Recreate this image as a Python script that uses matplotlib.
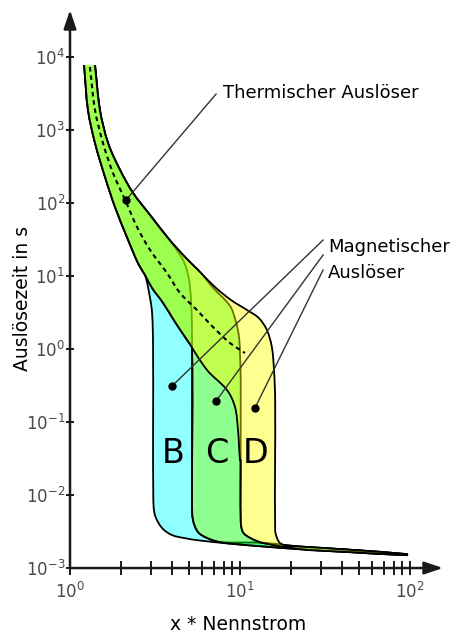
import matplotlib
matplotlib.use('Agg')
import matplotlib.pyplot as plt
from matplotlib.path import Path
from matplotlib.patches import PathPatch
from matplotlib.ticker import FixedLocator, NullLocator, NullFormatter, FuncFormatter
import numpy as np

# x = multiple of rated current (Nennstrom), t = trip time in s

# thermal release, lower limit (common left border of B, C and D)
lower_x = [1.21, 1.276, 1.403, 1.607, 1.84, 2.165, 2.512, 2.762]
lower_t = [7760, 1880, 664, 227, 88, 34, 15, 10.3]
# lower limit going on for C and D
lower_cd_x = [3.04, 3.53, 4.15, 4.88, 6.40, 8.39, 9.35, 9.73, 10.0]
lower_cd_t = [6.85, 4.27, 2.34, 1.33, 0.515, 0.274, 0.160, 0.0776, 0.0301]

# thermal release, upper limit (outer right border)
upper_x = [1.403, 1.50, 1.674, 1.97, 2.35, 2.955, 3.77, 4.75, 5.82, 7.13,
           8.85, 11.0, 12.9, 14.4, 15.4, 15.85, 16.1]
upper_t = [7760, 1880, 664, 283, 137, 68.6, 33.2, 18.2, 11.35, 7.06,
           4.69, 3.42, 2.66, 1.82, 1.06, 0.515, 0.20]

# mean thermal curve (dashed)
mean_x = [1.31, 1.403, 1.563, 1.79, 2.11, 2.48, 2.96, 3.72, 4.44, 5.58, 6.94, 8.73, 10.7]
mean_t = [7290, 1880, 664, 258, 110, 46.9, 22.7, 11.0, 5.85, 3.42, 2.0, 1.21, 0.88]

# instantaneous tail at the bottom
inst_lo_x = [4.75, 5.82, 8.73, 13.1, 22.5, 44.4, 96]
inst_lo_t = [0.00256, 0.00238, 0.00216, 0.00199, 0.00181, 0.00165, 0.00150]
inst_hi_x = [7.63, 13.7, 18.9, 22.5, 44.4, 96]
inst_hi_t = [0.00240, 0.00222, 0.00205, 0.00197, 0.00178, 0.00155]

# B: 3 ... 5 In
b_left_x = lower_x + [2.95, 3.04, 3.08, 3.09, 3.16, 3.48, 3.98]
b_left_t = lower_t + [5.15, 3.11, 1.06, 0.0094, 0.00532, 0.00353, 0.00283]
b_right_x = upper_x[:7] + [4.2, 4.69, 5.01, 5.15, 5.22, 5.22, 5.29, 5.66, 6.40, 7.63]
b_right_t = upper_t[:7] + [23.5, 15.5, 9.0, 4.69, 1.82, 0.0078, 0.00455, 0.00311, 0.00258, 0.00227]

# C: 5 ... 10 In
c_left_x = lower_x + lower_cd_x[:4] + [5.22, 5.22, 5.29, 5.66, 6.40, 7.63]
c_left_t = lower_t + lower_cd_t[:4] + [1.05, 0.0078, 0.00455, 0.00311, 0.00258, 0.00226]
c_right_x = upper_x[:9] + [6.94, 8.73, 9.47, 9.87, 10.0, 10.1, 10.1, 10.4, 11.5, 13.7]
c_right_t = upper_t[:9] + [6.9, 3.9, 2.34, 1.46, 0.83, 0.376, 0.00455, 0.00311, 0.00258, 0.0022]

# D: 10 ... 16 In
d_left_x = lower_x + lower_cd_x + [10.1, 10.1, 10.4, 11.5, 13.7]
d_left_t = lower_t + lower_cd_t + [0.0301, 0.00455, 0.00311, 0.00258, 0.0022]
d_right_x = upper_x + [16.1, 16.5, 17.2, 18.9]
d_right_t = upper_t + [0.00332, 0.00258, 0.0022, 0.0020]

letters = ['B', 'C', 'D']
letter_x = [4.04, 7.33, 12.4]
letter_t = 0.0274

therm_dot = (2.135, 110)
therm_end = (7.23, 3110)
therm_text = (7.94, 2742)

mag_dot_x = [3.98, 7.23, 12.25]
mag_dot_t = [0.311, 0.194, 0.156]
mag_end_x = 30.8
mag_end_t = [31.1, 19.4, 12.1]
mag_text = (32.9, 9.4)

# pixels per decade, only used to make the bezier handles look even on screen
SX, SY = 170.0, 73.0


def outline(lx, lt, rx, rt):
    lo = [(x, t) for x, t in zip(inst_lo_x, inst_lo_t) if x > lx[-1]]
    hi = [(x, t) for x, t in zip(inst_hi_x, inst_hi_t) if x > rx[-1]]
    xs = lx + [p[0] for p in lo] + [p[0] for p in hi[::-1]] + rx[::-1]
    ts = lt + [p[1] for p in lo] + [p[1] for p in hi[::-1]] + rt[::-1]
    return xs, ts


def smooth_path(xs, ts, close=False):
    # bezier path through the points (chordal catmull-rom handles)
    p = np.column_stack([np.log10(xs) * SX, np.log10(ts) * SY])
    n = len(p)
    d = np.maximum(np.hypot(*np.diff(p, axis=0).T), 1e-9)
    m = np.zeros_like(p)
    for i in range(n):
        a = p[max(i - 1, 0)]
        b = p[min(i + 1, n - 1)]
        da = d[i - 1] if i > 0 else 0
        db = d[i] if i < n - 1 else 0
        m[i] = (b - a) / max(da + db, 1e-9)
    verts = [p[0]]
    codes = [Path.MOVETO]
    for i in range(n - 1):
        verts += [p[i] + m[i] * d[i] / 3, p[i + 1] - m[i + 1] * d[i] / 3, p[i + 1]]
        codes += [Path.CURVE4] * 3
    if close:
        verts.append(p[0])
        codes.append(Path.LINETO)
    v = np.array(verts)
    v = np.column_stack([10 ** (v[:, 0] / SX), 10 ** (v[:, 1] / SY)])
    return Path(v, codes)


fig = plt.figure(figsize=(4.57, 6.33), dpi=100)
ax = fig.add_axes([0, 0, 1, 1])
ax.set_xscale('log')
ax.set_yscale('log')
ax.set_xlim(10 ** -0.4118, 10 ** 2.2765)
ax.set_ylim(10 ** -3.890, 10 ** 4.781)
ax.patch.set_alpha(0)

for s in ['top', 'right', 'left', 'bottom']:
    ax.spines[s].set_visible(False)
ax.spines['left'].set_position(('data', 1))
ax.spines['bottom'].set_position(('data', 1e-3))

regions = [(b_left_x, b_left_t, b_right_x, b_right_t, '#00ffff'),
           (c_left_x, c_left_t, c_right_x, c_right_t, '#00ff00'),
           (d_left_x, d_left_t, d_right_x, d_right_t, '#ffff00')]
for i, (lx, lt, rx, rt, col) in enumerate(regions):
    xs, ts = outline(lx, lt, rx, rt)
    ax.add_patch(PathPatch(smooth_path(xs, ts, close=True), facecolor=col, alpha=0.44,
                           lw=0, zorder=1 + i))
    ax.add_patch(PathPatch(smooth_path(xs, ts), fill=False, edgecolor='black', lw=1.3,
                           joinstyle='round', zorder=1.5 + i))

ax.add_patch(PathPatch(smooth_path(mean_x, mean_t), fill=False, edgecolor='black', lw=1.5,
                       linestyle=(0, (2.2, 1.8)), zorder=5))

for l, x in zip(letters, letter_x):
    ax.text(x, letter_t, l, fontsize=24, ha='center', va='baseline', zorder=6)

# annotations
ax.plot([therm_dot[0], therm_end[0]], [therm_dot[1], therm_end[1]], color='#333333', lw=1.0, zorder=6)
ax.plot(*therm_dot, 'o', color='black', ms=5, zorder=7)
ax.text(therm_text[0], therm_text[1], 'Thermischer Auslöser', fontsize=13, va='baseline', zorder=7)

for x, t, te in zip(mag_dot_x, mag_dot_t, mag_end_t):
    ax.plot([x, mag_end_x], [t, te], color='#333333', lw=1.0, zorder=6)
    ax.plot(x, t, 'o', color='black', ms=5, zorder=7)
ax.text(mag_text[0], mag_text[1], 'Magnetischer\nAuslöser', fontsize=13, va='baseline',
        linespacing=1.55, zorder=7)

# axes with arrows
arrow = dict(arrowstyle='-|>,head_length=0.8,head_width=0.27', mutation_scale=14,
             lw=1.8, color='#1a1a1a', shrinkA=0, shrinkB=0)
ax.annotate('', xy=(1, 10 ** 4.644), xytext=(1, 1e-3), arrowprops=arrow, zorder=8)
ax.annotate('', xy=(10 ** 2.194, 1e-3), xytext=(1, 1e-3), arrowprops=arrow, zorder=8)

fmt = FuncFormatter(lambda v, p: r'$10^{%d}$' % round(np.log10(v)))
ax.xaxis.set_major_locator(FixedLocator([1, 10, 100]))
ax.xaxis.set_minor_locator(FixedLocator([2, 3, 4, 5, 6, 7, 8, 9, 20, 30, 40, 50, 60, 70, 80, 90]))
ax.xaxis.set_major_formatter(fmt)
ax.xaxis.set_minor_formatter(NullFormatter())
ax.yaxis.set_major_locator(FixedLocator([10.0 ** k for k in range(-3, 5)]))
ax.yaxis.set_minor_locator(NullLocator())
ax.yaxis.set_major_formatter(fmt)

ax.tick_params(axis='x', which='both', direction='inout', length=9.5, width=1.4,
               color='#1a1a1a', pad=5.5, labelsize=12, labelcolor='#4a4a4a')
ax.tick_params(axis='y', which='major', direction='inout', length=6, width=1.4,
               color='#1a1a1a', pad=0.5, labelsize=12, labelcolor='#4a4a4a')

fig.text(28 / 457, 1 - 298 / 633, 'Auslösezeit in s', fontsize=13.5, rotation=90,
         rotation_mode='anchor', ha='center', va='baseline')
fig.text(238 / 457, 3 / 633, 'x * Nennstrom', fontsize=13.5, ha='center', va='baseline')

fig.savefig('out.png', dpi=100)
